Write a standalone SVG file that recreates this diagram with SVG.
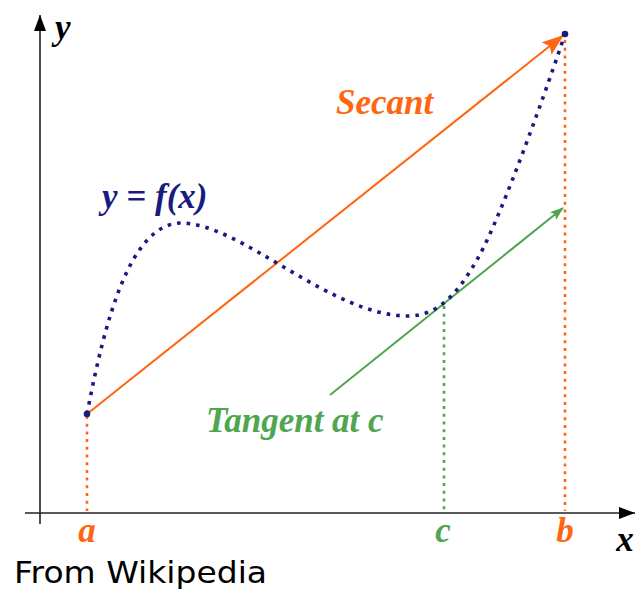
<svg xmlns="http://www.w3.org/2000/svg" width="636" height="590" viewBox="0 0 636 590">
<style>
.lbl{font-family:"Liberation Serif","Times New Roman",serif;font-weight:bold;font-style:italic;font-size:35px}
.orange{fill:#ff6611}
.green{fill:#4ea64e}
.navy{fill:#1a1a80}
.axis{stroke:#222;stroke-width:1.6;fill:none}
.vdot{stroke-width:2.6;stroke-dasharray:3 4.7;fill:none}
</style>
<defs>
<marker id="ahAxis" viewBox="0 0 16 12" refX="16" refY="6" markerWidth="16" markerHeight="12" markerUnits="userSpaceOnUse" orient="auto"><path d="M0,0 L16,6 L0,12 z" fill="#000"/></marker>
<marker id="ahOrange" viewBox="0 0 22 16" refX="21" refY="8" markerWidth="22" markerHeight="16" markerUnits="userSpaceOnUse" orient="auto"><path d="M0,0 L22,8 L0,16 L4,8 z" fill="#ff6611"/></marker>
<marker id="ahGreen" viewBox="0 0 14 10" refX="13" refY="5" markerWidth="14" markerHeight="10" markerUnits="userSpaceOnUse" orient="auto"><path d="M0,0 L14,5 L0,10 L3,5 z" fill="#4ea64e"/></marker>
</defs>
<g id="axes">
<line class="axis" x1="40" y1="524" x2="40" y2="15" marker-end="url(#ahAxis)"/>
<line class="axis" x1="25" y1="513" x2="635" y2="513" marker-end="url(#ahAxis)"/>
<text class="lbl" x="55" y="39" font-size="30" fill="#000">y</text>
<text class="lbl" x="625" y="551" font-size="30" fill="#000" text-anchor="middle">x</text>
</g>
<g id="connectors">
<line x1="87" y1="416" x2="87" y2="511" class="vdot" stroke="#ff6611"/>
<line x1="565" y1="40" x2="565" y2="511" class="vdot" stroke="#ff6611"/>
<line x1="444" y1="306" x2="444" y2="511" class="vdot" stroke="#4ea64e"/>
<line x1="87" y1="414" x2="563" y2="35.5" stroke="#ff6611" stroke-width="2" marker-end="url(#ahOrange)"/>
<line x1="330" y1="395" x2="563" y2="208" stroke="#4ea64e" stroke-width="2" marker-end="url(#ahGreen)"/>
</g>
<g id="curve">
<path d="M87,414 C105,320 130,225 180,223 C240,222 330,316 408,316 C440,316 460,290 478,258 C503,213.5 550,79 565,34" fill="none" stroke="#1a1a80" stroke-width="3.6" stroke-dasharray="3.6 6"/>
<circle cx="87" cy="414" r="3.3" fill="#1a1a80"/>
<circle cx="565" cy="34" r="3.3" fill="#1a1a80"/>
</g>
<g id="labels">
<text class="lbl orange" x="336" y="114">Secant</text>
<text class="lbl navy" x="102" y="208">y = f(x)</text>
<text class="lbl green" x="206" y="432">Tangent at c</text>
<text class="lbl orange" x="87" y="542" text-anchor="middle">a</text>
<text class="lbl green" x="443" y="542" text-anchor="middle">c</text>
<text class="lbl orange" x="565" y="542" text-anchor="middle">b</text>
</g>
<text x="14" y="583" font-family="DejaVu Sans, sans-serif" font-size="31" textLength="253" lengthAdjust="spacingAndGlyphs" fill="#000">From Wikipedia</text>
</svg>
